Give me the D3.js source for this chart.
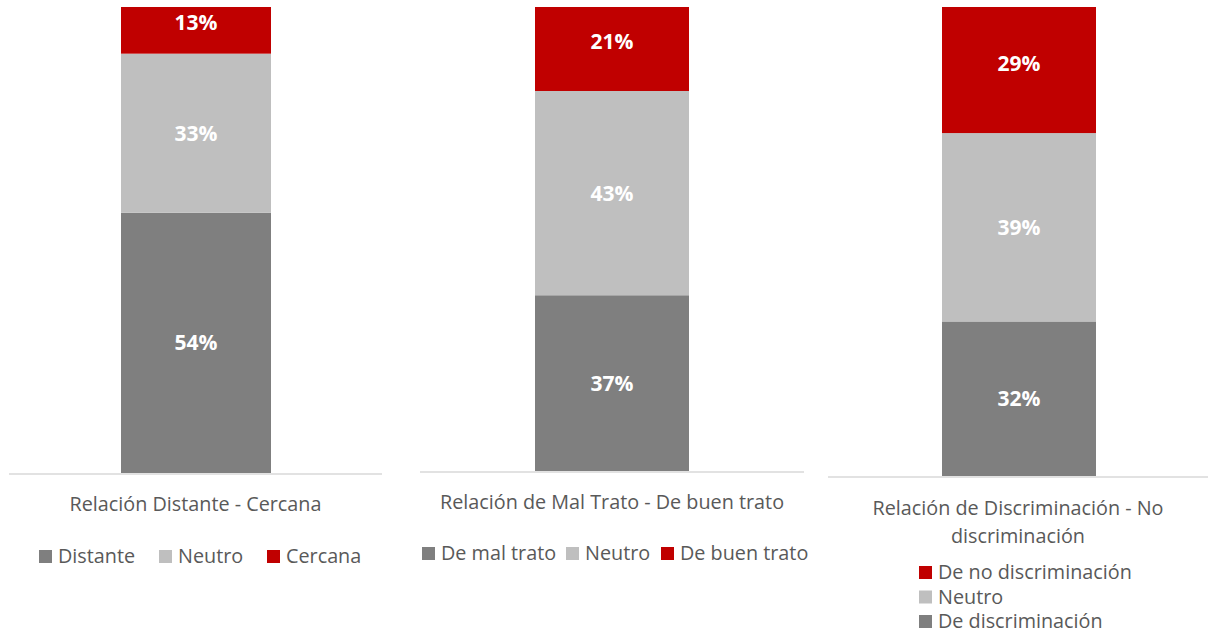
<!DOCTYPE html>
<html>
<head>
<meta charset="utf-8">
<script src="https://cdn.jsdelivr.net/npm/d3@7"></script>
<style>
  body { margin: 0; background: #fff; }
  text { font-family: "Open Sans", "Noto Sans", sans-serif; }
</style>
</head>
<body>
<div id="body"></div>
<script>
// data: one stacked 100% bar per panel (bottom -> top)
var titles = [["Relación Distante - Cercana"], ["Relación de Mal Trato - De buen trato"], ["Relación de Discriminación - No", "discriminación"]];
var seriesNames = [["Distante", "Neutro", "Cercana"], ["De mal trato", "Neutro", "De buen trato"], ["De discriminación", "Neutro", "De no discriminación"]];
var values = [[54, 33, 13], [37, 43, 21], [32, 39, 29]];
var colors = ["#7f7f7f", "#bfbfbf", "#c00000"];

// layout of each panel, tuned by eye
var panels = [
  {x0: 9, x1: 382, barX: 121, barW: 150, bottom: 473, h: 482, titleY: [511], legY: 563, legend: "row", legX: [39, 159, 267]},
  {x0: 420, x1: 804, barX: 535, barW: 154, bottom: 471, h: 475, titleY: [509], legY: 560, legend: "row", legX: [422, 566, 661]},
  {x0: 828, x1: 1208, barX: 942, barW: 154, bottom: 476, h: 483, titleY: [515, 543], legY: 579, legend: "col", legX: [919]}
];
var fs = 19.8;

var svg = d3.select("#body").append("svg").attr("width", 1208).attr("height", 633);
svg.append("defs").append("clipPath").attr("id", "clip")
  .append("rect").attr("x", 0).attr("y", 7).attr("width", 1208).attr("height", 626);

panels.forEach(function(p, i){
  var g = svg.append("g");
  var y = d3.scaleLinear().domain([0, 100]).range([p.bottom, p.bottom - p.h]);
  var stacked = [];
  var acc = 0;
  values[i].forEach(function(v, k){ stacked.push({k: k, y0: acc, y1: acc + v, v: v}); acc += v; });

  g.append("g").attr("clip-path", "url(#clip)")
    .selectAll("rect").data(stacked).enter().append("rect")
    .attr("x", p.barX).attr("width", p.barW)
    .attr("y", function(d){ return y(d.y1); })
    .attr("height", function(d){ return y(d.y0) - y(d.y1); })
    .attr("fill", function(d){ return colors[d.k]; });

  g.selectAll("text.lbl").data(stacked).enter().append("text").attr("class", "lbl")
    .attr("x", p.barX + p.barW / 2)
    .attr("y", function(d){ return (y(d.y0) + y(d.y1)) / 2; })
    .attr("dy", "0.36em").attr("text-anchor", "middle")
    .attr("fill", "#fff").attr("font-weight", "bold").attr("font-size", 21)
    .text(function(d){ return d.v + "%"; });

  // axis line
  g.append("line").attr("x1", p.x0).attr("x2", p.x1)
    .attr("y1", p.bottom + 1).attr("y2", p.bottom + 1)
    .attr("stroke", "#d9d9d9").attr("stroke-width", 1.5);

  // category title
  titles[i].forEach(function(t, j){
    g.append("text").attr("x", (p.x0 + p.x1) / 2).attr("y", p.titleY[j])
      .attr("text-anchor", "middle").attr("fill", "#595959").attr("font-size", fs).text(t);
  });

  // legend
  var names = seriesNames[i];
  if (p.legend == "row") {
    names.forEach(function(n, k){
      g.append("rect").attr("x", p.legX[k]).attr("y", p.legY - 13).attr("width", 13).attr("height", 13).attr("fill", colors[k]);
      g.append("text").attr("x", p.legX[k] + 19).attr("y", p.legY).attr("fill", "#595959").attr("font-size", fs).text(n);
    });
  } else {
    [2, 1, 0].forEach(function(k, j){
      var yy = p.legY + j * 24.5;
      g.append("rect").attr("x", p.legX[0]).attr("y", yy - 13).attr("width", 13).attr("height", 13).attr("fill", colors[k]);
      g.append("text").attr("x", p.legX[0] + 19).attr("y", yy).attr("fill", "#595959").attr("font-size", fs).text(names[k]);
    });
  }
});
</script>
</body>
</html>
